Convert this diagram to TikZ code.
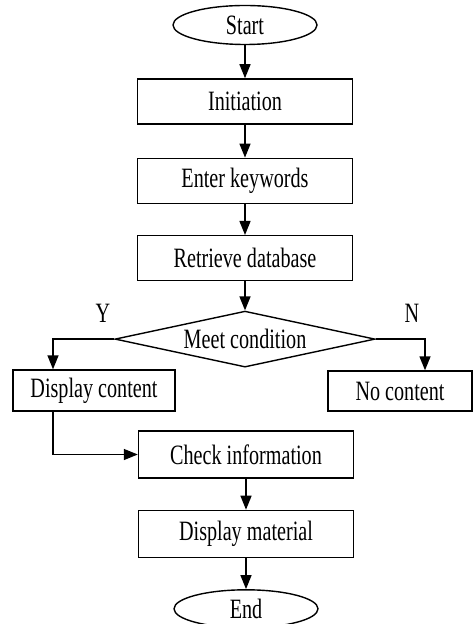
\documentclass[tikz,border=0pt]{standalone}
\usepackage{fontspec}
\setmainfont{Liberation Serif}[FakeStretch=0.72]
\usetikzlibrary{positioning,shapes.geometric,arrows.meta}

\begin{document}
\begin{tikzpicture}[x=0.5pt,y=-0.5pt,line width=0.7pt,
  font=\fontsize{14}{16}\selectfont,
  box/.style={rectangle,draw,minimum width=107.5pt,minimum height=22.5pt,inner sep=0pt},
  term/.style={ellipse,draw,minimum width=72pt,minimum height=19.5pt,inner sep=0pt},
  test/.style={diamond,draw,aspect=4.6,minimum width=130pt,minimum height=28pt,inner sep=0pt},
  arr/.style={-{Triangle[length=7pt,width=5.5pt]}}]
  \useasboundingbox (0,0) rectangle (473,624);
  \node[term] (start) at (245,25) {Start};
  \node[box,below=16.5pt of start] (init) {Initiation};
  \node[box,below=16.5pt of init] (keys) {Enter keywords};
  \node[box,below=15.5pt of keys] (retr) {Retrieve database};
  \node[test,below=14.5pt of retr] (cond) {Meet condition};
  \node[box,minimum width=81pt,minimum height=20.5pt] (disp) at (94,390.5) {Display content};
  \node[box,minimum width=72pt,minimum height=20pt] (none) at (400,391) {No content};
  \node[box,minimum height=23.5pt] (check) at (246,454.5) {Check information};
  \node[box,minimum height=23.5pt,below=15.5pt of check] (mat) {Display material};
  \node[term,minimum height=19pt,below=15.5pt of mat] (end) {End};
  \node (yes) at (103,313) {Y};
  \node (no) at (412,313) {N};
  \draw[arr] (start) -- (init);
  \draw[arr] (init) -- (keys);
  \draw[arr] (keys) -- (retr);
  \draw[arr] (retr) -- (cond);
  \draw[arr] (cond.west) -| ([xshift=-20.5pt]disp.north);
  \draw[arr] (cond.east) -| ([xshift=12.5pt]none.north);
  \draw[arr] ([xshift=-20.5pt]disp.south) |- (check.west);
  \draw[arr] (check) -- (mat);
  \draw[arr] (mat) -- (end);
\end{tikzpicture}
\end{document}
